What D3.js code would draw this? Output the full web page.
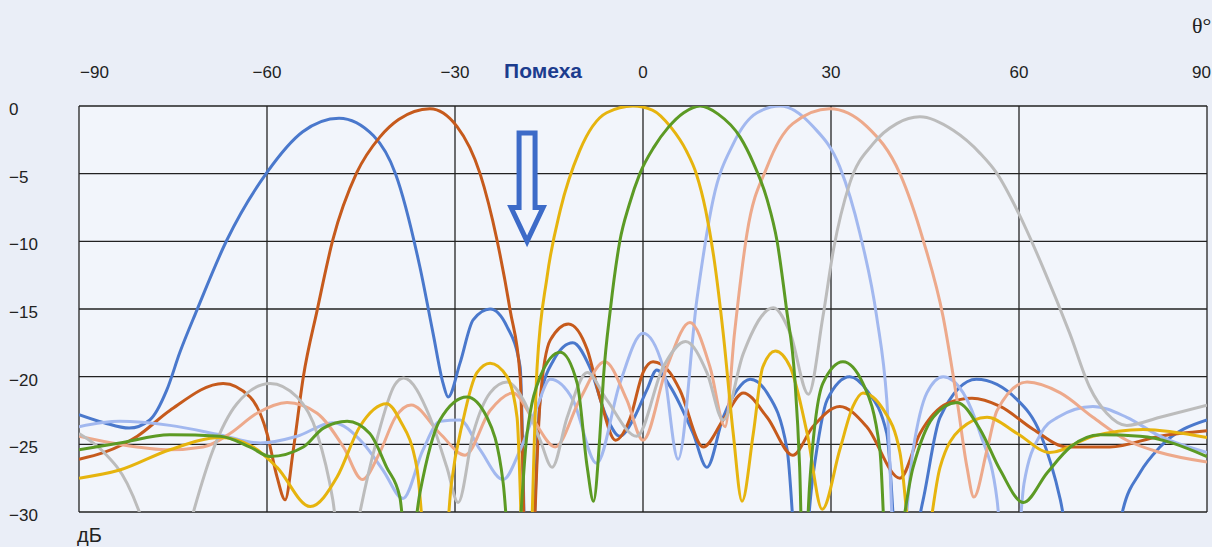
<!DOCTYPE html>
<html>
<head>
<meta charset="utf-8">
<script src="https://cdn.jsdelivr.net/npm/d3@7"></script>
<style>
  body { margin: 0; background: #eaeef7; }
  svg { display: block; }
</style>
</head>
<body>
<script>
// angle (deg) / level (dB) pairs
const xTicks = [-90, -60, -30, 0, 30, 60, 90];
const yTicks = [0, -5, -10, -15, -20, -25, -30];
const jammerAngle = -18.5;
const jammerLabel = "Помеха";

const blue = [[-90,-22.8],[-86,-23.4],[-82,-23.8],[-78.7,-23.2],[-76,-21],[-73.9,-18.2],[-71.2,-15.1],[-66.4,-9.9],[-60,-4.9],[-54.3,-1.9],[-48.5,-0.9],[-43,-2.2],[-39.5,-5],[-35.6,-11.9],[-33.5,-16.8],[-31.9,-20.5],[-31.1,-21.5],[-29.2,-19],[-27.1,-15.8],[-24.4,-15],[-21.7,-16.3],[-19.6,-19.3],[-18.4,-40],[-16.4,-21.7],[-14.3,-18.8],[-11.2,-17.5],[-8.5,-19.3],[-5.8,-23],[-3.7,-24.4],[-1.6,-23.2],[0.6,-21],[2.2,-19.5],[4.3,-20.7],[8,-24.2],[10.2,-26.7],[12.8,-23],[15,-21],[17.1,-20.2],[19.8,-21.2],[23,-25.4],[25,-36],[27.1,-27.4],[29.4,-21.7],[33,-20],[35.7,-21],[38.9,-24.2],[41,-36],[44.7,-29.1],[47.4,-23],[53.2,-20.2],[59.7,-21.7],[63.4,-24.2],[66.6,-29.1],[72,-45],[76.6,-29.8],[79.3,-27.1],[82.5,-25.2],[90,-23.2]];
const orange = [[-90,-26.1],[-86,-25.6],[-80.7,-24.4],[-75.5,-22.5],[-67,-20.5],[-62.7,-21.5],[-60,-24.2],[-58.4,-27.4],[-57.1,-29.1],[-55.8,-25.4],[-54.2,-20],[-52,-15.1],[-49.5,-9.9],[-45.7,-4.95],[-42,-2.3],[-39,-1.0],[-34,-0.2],[-29.7,-1.5],[-26,-5],[-23.3,-9.9],[-21.2,-15.1],[-19.6,-20],[-18.4,-40],[-16.4,-21.7],[-14.8,-17.3],[-11.9,-16.1],[-8.9,-18],[-6.8,-21.7],[-4.4,-24.7],[-2,-23],[0,-19.7],[1.6,-18.9],[4.3,-19.7],[5.9,-21],[9.6,-25.2],[12.8,-23.2],[16,-21.2],[19.8,-23],[23.9,-25.8],[27.1,-23.7],[31.4,-22.2],[35.7,-23.7],[41,-27.5],[44.2,-24.2],[48.5,-22],[52.5,-21.6],[57,-22.2],[62.3,-23.9],[67.7,-25.2],[74.5,-25.2],[82.5,-24.4],[90,-24]];
const yellow = [[-90,-27.5],[-83.5,-26.9],[-75.5,-25.4],[-67.5,-24.5],[-62.2,-25.2],[-58.4,-26.7],[-53.1,-29.6],[-48.8,-27.4],[-45.2,-23.7],[-40.9,-22],[-38.8,-23.2],[-36.1,-26.7],[-33,-42],[-30.6,-28],[-28.7,-23.2],[-26.5,-19.7],[-24.4,-19],[-21.7,-20],[-20.1,-23],[-18.6,-40],[-16.9,-19.3],[-15.3,-12.6],[-13.2,-7.7],[-10.1,-3.3],[-5.8,-0.5],[-1.6,0],[1.5,-0.3],[4.5,-1.6],[6.9,-3.3],[8.5,-5],[10,-7.7],[11.4,-11.5],[12.8,-16.8],[14.4,-24.2],[15.8,-29.2],[17.6,-24.2],[19.1,-19.3],[21.1,-18.1],[23.5,-19.3],[26.2,-24.2],[28.6,-29.8],[31.4,-25.4],[33.5,-22.2],[35.1,-21.2],[38.3,-22.4],[41,-25.6],[43.7,-36],[47.4,-26.7],[50.6,-23.9],[54.9,-23],[59.7,-24.2],[64.9,-25.6],[71.8,-24.4],[79.8,-23.9],[90,-24.5]];
const green = [[-90,-25.4],[-83.5,-24.9],[-75.5,-24.3],[-67.5,-24.4],[-62.7,-25.2],[-59.5,-25.9],[-54.2,-25.2],[-51,-23.8],[-47.2,-23.3],[-43.6,-24.2],[-40.9,-26.7],[-38.8,-28.9],[-37.5,-34],[-35.6,-28.6],[-32.4,-23.2],[-28.1,-21.5],[-24.9,-23],[-22.3,-27.9],[-20.7,-36],[-18.5,-24.2],[-16.4,-20],[-13.2,-18.2],[-10.5,-20.5],[-8.9,-26.7],[-7.9,-29.2],[-6.9,-24.5],[-6.3,-20],[-5.2,-15],[-3.7,-10],[-2.2,-7.3],[-0.5,-5],[1.8,-3],[4,-1.6],[6.5,-0.5],[9.1,0],[12,-0.6],[15.5,-2.3],[17.6,-4.2],[19.8,-6.9],[21.4,-10],[22.9,-15],[24.2,-20],[25,-26.7],[25.6,-36],[26.6,-27.9],[28.7,-20.5],[31.9,-18.9],[35.1,-20.5],[37.8,-25.4],[39.1,-36],[43.1,-26.7],[46.3,-23],[50.1,-21.9],[53.8,-23.9],[57,-26.9],[60.7,-29.3],[64.5,-27.1],[68.2,-25.2],[73,-24.3],[79.3,-24.4],[90,-25.9]];
const lightBlue = [[-90,-23.7],[-83.5,-23.3],[-75.5,-23.6],[-67.5,-24.3],[-61.1,-24.9],[-55.2,-24.4],[-49.5,-23.4],[-44.7,-24.9],[-41.5,-26.9],[-38.3,-29],[-35.1,-25.4],[-32.4,-23.3],[-29.2,-23.2],[-26,-25.4],[-22.3,-27.6],[-19.6,-25.4],[-16.9,-22.2],[-14.8,-20.2],[-11.2,-21.7],[-7.4,-26.4],[-3.7,-20.5],[0,-16.8],[3.2,-19.3],[5.6,-26.1],[8.6,-14.3],[11.2,-6.9],[14.4,-2.8],[18.2,-0.5],[21.9,0],[27.1,-1.5],[31.4,-4.5],[34.6,-9.4],[37.3,-15.6],[38.9,-21.7],[40.5,-36],[43.1,-25.4],[45.3,-21.2],[47.9,-20],[51.1,-21.2],[53.8,-24.2],[56.5,-29.1],[58.5,-40],[60.8,-27.9],[63.5,-24.2],[66.2,-23],[71.8,-22.2],[77.2,-23],[82.5,-24.4],[90,-25.6]];
const salmon = [[-90,-24.4],[-83.5,-25],[-75.5,-25.4],[-70.2,-25.2],[-65.9,-24.2],[-61.6,-22.7],[-56.8,-21.9],[-52,-22.7],[-47.8,-25.2],[-44.8,-27.6],[-42,-25.6],[-39.5,-23],[-37,-22.1],[-32.4,-24.2],[-28.4,-25.8],[-24.4,-22.5],[-20.7,-21.2],[-17.5,-23.2],[-14,-25.2],[-10.1,-21.7],[-6.1,-18.9],[-2.6,-21.7],[0,-24.7],[3.8,-19.3],[7.5,-16],[10.7,-19.3],[13.1,-23.7],[14.6,-16.8],[16.6,-9.4],[19.8,-4.5],[23.9,-1.3],[29.8,-0.2],[35.7,-1.5],[41,-5],[44.7,-9.9],[47.9,-15.6],[50.1,-21.7],[51.7,-26.7],[52.8,-28.9],[54.9,-25.4],[56.5,-22.5],[61.3,-20.4],[66.6,-21.2],[71.8,-23],[77.2,-24.7],[82.5,-25.6],[90,-26.3]];
const gray = [[-90,-24.2],[-86,-25.6],[-82.3,-27.9],[-80.3,-30.1],[-76,-38],[-71.8,-30.1],[-68.6,-25.4],[-64.8,-22],[-59.5,-20.5],[-55.2,-21.5],[-52,-24.2],[-49.5,-29.1],[-47.5,-36],[-45.2,-30.1],[-42.5,-24.7],[-39.6,-20.6],[-38.2,-20.1],[-34,-23],[-31.3,-26.7],[-29.5,-29.3],[-27.1,-24.2],[-24.4,-21.2],[-21.7,-20.4],[-19.1,-21.7],[-16.4,-24.7],[-14.5,-26.7],[-12.1,-23],[-8.9,-19.7],[-5.8,-21.7],[-1,-24.4],[3.2,-19.3],[6.8,-17.4],[10.2,-19.7],[12.8,-23.2],[16,-18.3],[20.8,-14.9],[23.5,-16.8],[26.4,-21.3],[28.7,-15.6],[30.4,-10.6],[33,-5.7],[36.7,-2.8],[40.5,-1.3],[44.2,-0.8],[49.5,-1.8],[53.8,-3.5],[56.5,-5],[59.7,-7.7],[63.8,-11.9],[68.1,-16.8],[71.3,-20.8],[74,-22.7],[77.2,-23.6],[82.5,-23],[90,-22.1]];

const series = [
  { values: blue, color: "#4a78cc" },
  { values: orange, color: "#c65a1c" },
  { values: lightBlue, color: "#a2b8ef" },
  { values: salmon, color: "#eda98b" },
  { values: gray, color: "#bcbcbc" },
  { values: yellow, color: "#e6b40e" },
  { values: green, color: "#5c9a24" },
];

const W = 1212, H = 547;
const x = d3.scaleLinear().domain([-90, 90]).range([79, 1207]);
const y = d3.scaleLinear().domain([0, -30]).range([106, 512]);

const svg = d3.select("body").append("svg")
  .attr("width", W)
  .attr("height", H)
  .style("font-family", "'Liberation Sans', Arial, sans-serif");

svg.append("rect").attr("width", W).attr("height", H).attr("fill", "#eaeef7");
svg.append("rect")
  .attr("x", x(-90)).attr("y", y(0))
  .attr("width", x(90) - x(-90)).attr("height", y(-30) - y(0))
  .attr("fill", "#f2f5fb");

svg.append("clipPath").attr("id", "plot")
  .append("rect")
  .attr("x", x(-90)).attr("y", y(0))
  .attr("width", x(90) - x(-90)).attr("height", y(-30) - y(0));

// grid
svg.append("g").selectAll("line")
  .data(xTicks).enter().append("line")
  .attr("x1", d => x(d)).attr("x2", d => x(d))
  .attr("y1", y(0)).attr("y2", y(-30))
  .attr("stroke", "#222").attr("stroke-width", 1.3);
svg.append("g").selectAll("line")
  .data(yTicks).enter().append("line")
  .attr("x1", x(-90)).attr("x2", x(90))
  .attr("y1", d => y(d)).attr("y2", d => y(d))
  .attr("stroke", "#222").attr("stroke-width", 1.3);

const fmt = d => d < 0 ? "\u2212" + Math.abs(d) : String(d);

// top angle labels
svg.append("g").selectAll("text")
  .data(xTicks).enter().append("text")
  .attr("x", d => d === -90 ? x(d) + 1 : d === 90 ? x(d) + 4 : x(d))
  .attr("y", 78)
  .attr("text-anchor", d => d === -90 ? "start" : d === 90 ? "end" : "middle")
  .attr("font-size", 17)
  .attr("fill", "#222")
  .text(fmt);

// left dB labels
svg.append("g").selectAll("text")
  .data(yTicks).enter().append("text")
  .attr("x", 9)
  .attr("y", d => y(d) + 9)
  .attr("font-size", 17)
  .attr("fill", "#222")
  .text(fmt);

svg.append("text").attr("x", 77).attr("y", 542)
  .attr("font-size", 20).attr("fill", "#222").text("дБ");
svg.append("text").attr("x", 1192).attr("y", 33)
  .attr("font-size", 22).attr("fill", "#222")
  .style("font-family", "'Liberation Serif', 'DejaVu Serif', serif")
  .text("θ°");

// patterns
const line = d3.line()
  .x(d => x(d[0]))
  .y(d => y(d[1]))
  .curve(d3.curveMonotoneX);

svg.append("g").attr("clip-path", "url(#plot)")
  .selectAll("path")
  .data(series).enter().append("path")
  .attr("d", d => line(d.values))
  .attr("fill", "none")
  .attr("stroke", d => d.color)
  .attr("stroke-width", 3)
  .attr("stroke-linejoin", "round");

// jammer arrow
const ax = x(jammerAngle);
const arrowTop = y(-2), arrowNeck = y(-7.5), arrowTip = y(-10);
const sw = 8, hw = 16;
svg.append("path")
  .attr("d", `M${ax - sw},${arrowTop} L${ax + sw},${arrowTop} L${ax + sw},${arrowNeck} L${ax + hw},${arrowNeck} L${ax},${arrowTip} L${ax - hw},${arrowNeck} L${ax - sw},${arrowNeck} Z`)
  .attr("fill", "#f2f5fb")
  .attr("stroke", "#3d6bc8")
  .attr("stroke-width", 5)
  .attr("stroke-linejoin", "miter");

svg.append("text")
  .attr("x", ax - 23).attr("y", 78)
  .attr("font-size", 21).attr("font-weight", "bold")
  .attr("fill", "#1c3c8e")
  .text(jammerLabel);
</script>
</body>
</html>
